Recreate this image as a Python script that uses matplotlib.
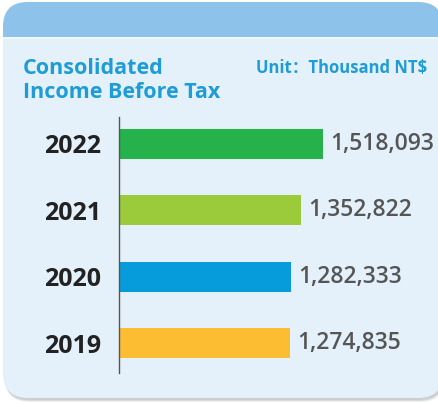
import matplotlib
matplotlib.use("Agg")
import matplotlib.pyplot as plt
from matplotlib.patches import FancyBboxPatch, Rectangle

years = ["2022", "2021", "2020", "2019"]
values = [1518093, 1352822, 1282333, 1274835]
bar_colors = ["#25B24B", "#9BCB3B", "#069CDB", "#FCBD33"]
title_lines = ["Consolidated", "Income Before Tax"]
unit_text = "Unit：Thousand NT$"

FONT = ["Open Sans", "Noto Sans CJK SC", "DejaVu Sans"]

W, H = 439, 403
fig = plt.figure(figsize=(W / 100, H / 100), dpi=100)
fig.patch.set_facecolor("white")

# background card in pixel coordinates
bg = fig.add_axes([0, 0, 1, 1])
bg.set_xlim(0, W)
bg.set_ylim(H, 0)
bg.axis("off")

for off, a in [(4, 0.25), (3, 0.35), (2, 0.45)]:
    bg.add_patch(FancyBboxPatch((3 + off / 2, 2 + off), 440, 396,
                                boxstyle="round,pad=0,rounding_size=25",
                                facecolor="#B9BEC3", edgecolor="none", alpha=a, zorder=0))
card = FancyBboxPatch((3, 2), 440, 396, boxstyle="round,pad=0,rounding_size=25",
                      facecolor="#E4F1FA", edgecolor="none", zorder=1)
bg.add_patch(card)
header = Rectangle((0, 0), W + 10, 37, facecolor="#8DC3EA", edgecolor="none", zorder=2)
bg.add_patch(header)
header.set_clip_path(card)
sep = Rectangle((0, 37), W + 10, 1.5, facecolor="#F2F8FC", edgecolor="none", zorder=2)
bg.add_patch(sep)
sep.set_clip_path(card)

blue = "#1E9CD7"
bg.text(23, 74, title_lines[0], family=FONT, fontweight="bold",
        fontsize=15.5, color=blue, va="baseline", ha="left", zorder=3)
bg.text(23, 97.5, title_lines[1], family=FONT, fontweight="bold",
        fontsize=15.5, color=blue, va="baseline", ha="left", zorder=3)
bg.text(256, 73, unit_text, family=FONT,
        fontweight="bold", fontsize=12, color=blue, va="baseline", ha="left", zorder=3)

# chart axes
left_px, right_px = 119, 439
top_px, bot_px = 117, 373
ax = fig.add_axes([left_px / W, 1 - bot_px / H, (right_px - left_px) / W, (bot_px - top_px) / H])
ax.set_facecolor("none")
ax.set_zorder(5)

px_per_unit = 0.1345 / 1000
ax.set_xlim(0, (right_px - left_px) / px_per_unit)
ypos = list(range(len(years)))
ax.set_ylim(3.452, -0.407)

ax.barh(ypos, values, height=0.45, color=bar_colors, edgecolor="none")

for y, v in zip(ypos, values):
    ax.annotate(f"{v:,}", xy=(v, y), xytext=(5, 0), textcoords="offset points",
                va="center", ha="left", fontsize=16.5, color="#555555",
                family=FONT, fontweight="semibold", clip_on=False, annotation_clip=False)

ax.set_yticks(ypos)
ax.set_yticklabels(years, family=FONT, fontweight="bold",
                   fontsize=18, color="#222222")
ax.tick_params(axis="y", length=0, pad=13)
ax.set_xticks([])
for s in ["top", "right", "bottom"]:
    ax.spines[s].set_visible(False)
ax.spines["left"].set_color("#555555")
ax.spines["left"].set_linewidth(1.0)

fig.savefig("out.png", dpi=100, facecolor="white")
